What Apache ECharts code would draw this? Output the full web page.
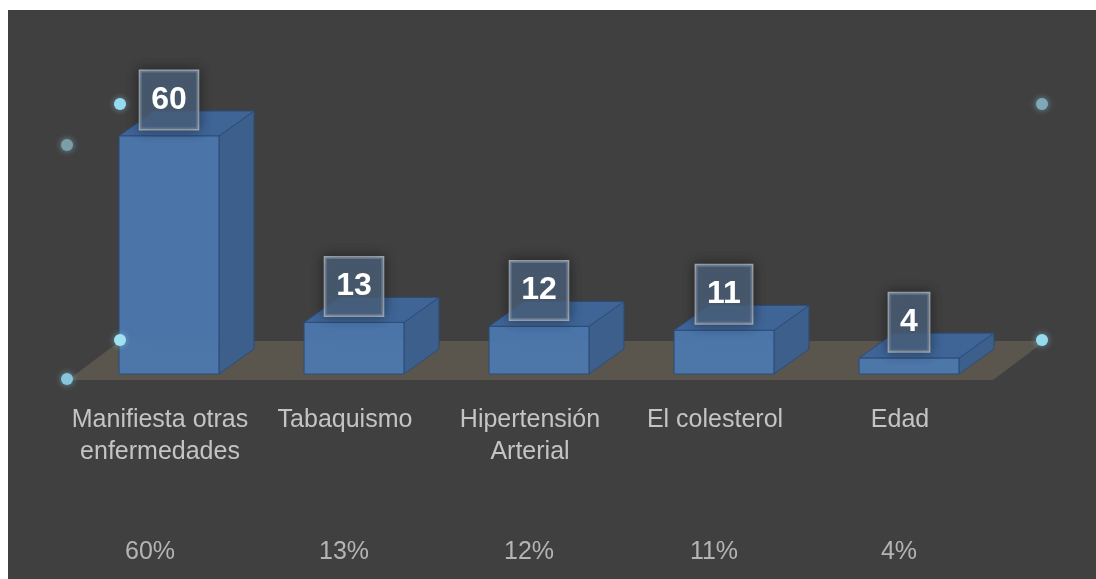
<!DOCTYPE html>
<html>
<head>
<meta charset="utf-8">
<script src="https://cdn.jsdelivr.net/npm/echarts@6/dist/echarts.min.js"></script>
<style>
html,body{margin:0;padding:0;background:#fff;}
#c{width:1096px;height:579px;}
</style>
</head>
<body>
<div id="c"></div>
<script>
// ---- data ----
var categories = ['Manifiesta otras\nenfermedades', 'Tabaquismo', 'Hipertensión\nArterial', 'El colesterol', 'Edad'];
var values = [60, 13, 12, 11, 4];
var percentLabels = ['60%', '13%', '12%', '11%', '4%'];

// ---- style constants ----
var DX = 35, DY = -25;           // bar depth projection
var FLOOR_DX = 52, FLOOR_DY = -39;

var chart = echarts.init(document.getElementById('c'), null, {renderer: 'canvas'});

function renderFloor(params, api) {
  var cs = params.coordSys;
  var y0 = api.coord([0, 0])[1] + 6;
  var xl = cs.x - 8.5, xr = cs.x + cs.width - 8.5;
  return {
    type: 'polygon',
    shape: {points: [[xl, y0], [xr, y0], [xr + FLOOR_DX, y0 + FLOOR_DY], [xl + FLOOR_DX, y0 + FLOOR_DY]]},
    style: {fill: '#5a564d'}
  };
}

function renderBar(params, api) {
  var i = api.value(0), v = api.value(1);
  var pb = api.coord([i, 0]), pt = api.coord([i, v]);
  var w = api.size([1, 0])[0] * 0.54;
  var x0 = pb[0] - w / 2, x1 = x0 + w, yb = pb[1], yt = pt[1];
  var edge = '#2d4d78';
  return {
    type: 'group',
    children: [
      {type: 'polyline', shape: {points: [[x0 + DX, yt + DY], [x0 + DX, yb + DY], [x1 + DX, yb + DY]]}, style: {stroke: 'rgba(45,77,120,0.6)', lineWidth: 1, fill: null}},
      {type: 'line', shape: {x1: x0, y1: yb, x2: x0 + DX, y2: yb + DY}, style: {stroke: 'rgba(45,77,120,0.6)', lineWidth: 1}},
      {type: 'polygon', shape: {points: [[x1, yt], [x1 + DX, yt + DY], [x1 + DX, yb + DY], [x1, yb]]}, style: {fill: '#3d5f8c', stroke: edge, lineWidth: 1}},
      {type: 'polygon', shape: {points: [[x0, yt], [x1, yt], [x1 + DX, yt + DY], [x0 + DX, yt + DY]]}, style: {fill: '#3f6597', stroke: edge, lineWidth: 1}},
      {type: 'rect', shape: {x: x0, y: yt, width: w, height: yb - yt}, style: {fill: 'rgba(76,120,176,0.93)', stroke: edge, lineWidth: 1}},
      {type: 'text', x: (x0 + x1) / 2, y: yt - 36, z2: 10,
        style: {
          text: String(v), align: 'center', verticalAlign: 'middle',
          fill: '#ffffff', font: 'bold 32px "Liberation Sans", Arial, sans-serif',
          lineHeight: 34, padding: [12, 11, 12, 11],
          backgroundColor: 'rgba(80,104,133,0.72)', borderColor: '#a9b1ba', borderWidth: 1.5,
          shadowBlur: 12, shadowColor: 'rgba(0,0,0,0.45)'
        }}
    ]
  };
}

var handles = [
  {x: 120, y: 104, c: '#96dcef'}, {x: 67, y: 145, c: '#7c9ea6'},
  {x: 120, y: 340, c: '#a0e2f2'}, {x: 67, y: 379, c: '#86c6dc'},
  {x: 1042, y: 104, c: '#80a8b8'}, {x: 1042, y: 340, c: '#96dcef'}
];

var option = {
  backgroundColor: '#ffffff',
  animation: false,
  graphic: [
    {type: 'rect', z: -10, shape: {x: 8, y: 10, width: 1088, height: 569}, style: {fill: '#404040'}}
  ].concat(handles.map(function (h) {
    return {type: 'circle', z: 100, shape: {cx: h.x, cy: h.y, r: 6}, style: {fill: h.c, shadowBlur: 6, shadowColor: 'rgba(140,210,235,0.6)'}};
  })),
  grid: {left: 76.5, right: 94.5, top: 136, bottom: 205},
  xAxis: [
    {
      type: 'category', data: categories, position: 'bottom',
      axisLine: {show: false}, axisTick: {show: false},
      axisLabel: {
        interval: 0, margin: 30, color: '#c4c4c4',
        fontFamily: '"Liberation Sans", Arial, sans-serif', fontSize: 25, lineHeight: 32,
        padding: [0, 18, 0, 0]
      }
    },
    {
      type: 'category',
      data: percentLabels.map(function (p, i) {
        return i === 0 ? {value: p, textStyle: {padding: [0, 38, 0, 0]}} : p;
      }),
      position: 'bottom', offset: 0,
      axisLine: {show: false}, axisTick: {show: false},
      axisLabel: {
        interval: 0, margin: 162, color: '#b4b4b4',
        fontFamily: '"Liberation Sans", Arial, sans-serif', fontSize: 25, lineHeight: 32,
        padding: [0, 20, 0, 0]
      }
    }
  ],
  yAxis: {type: 'value', min: 0, max: 60, show: false, splitLine: {show: false}},
  series: [
    {type: 'custom', z: 1, renderItem: renderFloor, data: [[0, 0]], silent: true},
    {type: 'custom', z: 2, renderItem: renderBar,
      data: values.map(function (v, i) { return [i, v]; })}
  ]
};
chart.setOption(option);
</script>
</body>
</html>
